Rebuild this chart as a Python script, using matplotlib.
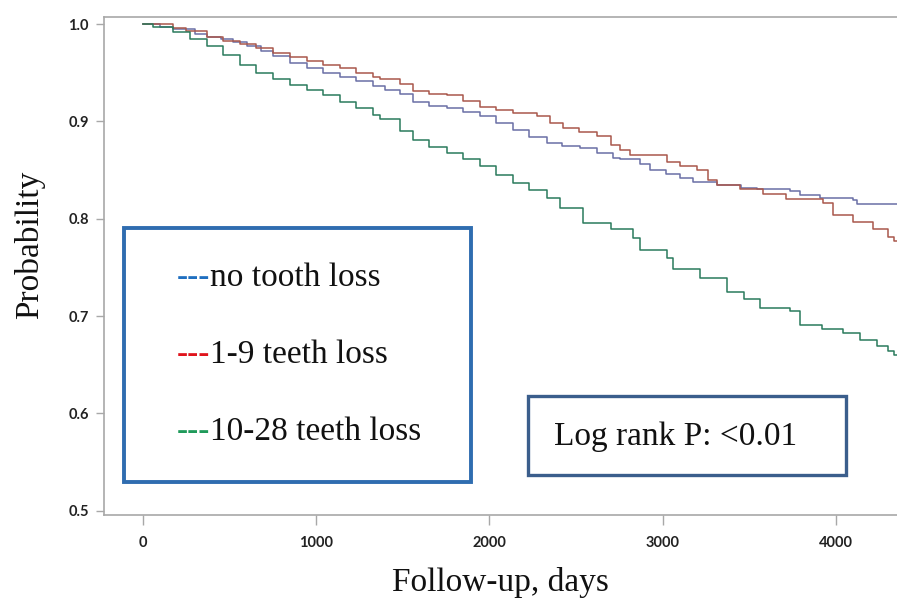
import matplotlib
matplotlib.use("Agg")
import matplotlib.pyplot as plt
from matplotlib.patches import Rectangle

# Kaplan-Meier curves (days, survival probability)
days_none = [0, 100, 175, 300, 368, 450, 521, 600, 680, 752, 850, 945, 1040, 1137,
             1230, 1330, 1400, 1484, 1561, 1650, 1753, 1850, 1946, 2040, 2138, 2230,
             2330, 2420, 2523, 2620, 2715, 2754, 2870, 2927, 3020, 3100, 3177, 3311,
             3450, 3542, 3736, 3793, 3908, 4100, 4120, 4360]
surv_none = [1.0, 0.997, 0.995, 0.990, 0.987, 0.985, 0.982, 0.977, 0.972, 0.967, 0.960,
             0.955, 0.950, 0.946, 0.941, 0.936, 0.932, 0.928, 0.920, 0.916, 0.914, 0.910,
             0.905, 0.898, 0.891, 0.884, 0.878, 0.875, 0.873, 0.867, 0.862, 0.861, 0.856,
             0.850, 0.846, 0.842, 0.838, 0.835, 0.832, 0.830, 0.828, 0.824, 0.821, 0.819,
             0.815, 0.815]

days_1_9 = [0, 175, 250, 368, 460, 560, 650, 752, 850, 945, 1040, 1137, 1230, 1330,
            1368, 1484, 1561, 1650, 1753, 1850, 1946, 2040, 2138, 2273, 2350, 2427,
            2520, 2619, 2700, 2754, 2812, 3024, 3100, 3196, 3263, 3311, 3446, 3581,
            3715, 3927, 3985, 4100, 4216, 4300, 4335, 4360]
surv_1_9 = [1.0, 0.996, 0.993, 0.987, 0.983, 0.979, 0.975, 0.970, 0.966, 0.962, 0.958,
            0.955, 0.950, 0.946, 0.943, 0.938, 0.931, 0.928, 0.927, 0.921, 0.915, 0.912,
            0.909, 0.905, 0.898, 0.893, 0.889, 0.885, 0.876, 0.871, 0.865, 0.858, 0.854,
            0.850, 0.840, 0.835, 0.830, 0.825, 0.820, 0.816, 0.804, 0.797, 0.789, 0.781,
            0.777, 0.777]

days_10_28 = [0, 60, 175, 270, 368, 460, 560, 650, 752, 850, 945, 1040, 1137, 1230,
              1330, 1368, 1484, 1561, 1650, 1753, 1850, 1946, 2040, 2138, 2230, 2330,
              2408, 2542, 2700, 2831, 2870, 3024, 3062, 3216, 3370, 3470, 3562, 3736,
              3793, 3920, 4043, 4140, 4236, 4300, 4335, 4360]
surv_10_28 = [1.0, 0.997, 0.992, 0.985, 0.977, 0.968, 0.958, 0.950, 0.943, 0.937, 0.932,
              0.927, 0.920, 0.914, 0.907, 0.902, 0.890, 0.881, 0.874, 0.8675, 0.861,
              0.854, 0.845, 0.837, 0.829, 0.821, 0.811, 0.796, 0.789, 0.780, 0.768,
              0.760, 0.748, 0.739, 0.725, 0.717, 0.708, 0.705, 0.691, 0.687, 0.683,
              0.675, 0.669, 0.664, 0.660, 0.660]

group_labels = ["no tooth loss", "1-9 teeth loss", "10-28 teeth loss"]
dash_colors = ["#1f6fc0", "#e0141c", "#1f9a5a"]
line_colors = ["#6a6fa6", "#a9574c", "#2a7a5c"]
x_ticks = [0, 1000, 2000, 3000, 4000]
y_ticks = [0.5, 0.6, 0.7, 0.8, 0.9, 1.0]
p_text = "Log rank P: <0.01"

W, H = 897, 604
fig = plt.figure(figsize=(W / 100, H / 100), dpi=100)


def fx(px):
    return px / W


def fy(py):
    return 1 - py / H


ax = fig.add_axes([fx(104), fy(515), fx(897) - fx(104), fy(17) - fy(515)])

for d, s, c in zip([days_none, days_1_9, days_10_28],
                   [surv_none, surv_1_9, surv_10_28], line_colors):
    ax.plot(d, s, drawstyle="steps-post", color=c, lw=1.1)

ax.set_xlim(-225, 4353)
ax.set_ylim(0.4956, 1.0072)
ax.set_xticks(x_ticks)
ax.set_yticks(y_ticks)
ax.set_yticklabels([f"{v:.1f}" for v in y_ticks])

for side in ["left", "bottom", "top"]:
    ax.spines[side].set_color("#a8a8a8")
    ax.spines[side].set_linewidth(1.2)
ax.spines["right"].set_visible(False)

tick_font = {"family": ["Lato", "DejaVu Sans"], "weight": "bold", "size": 10.5}
ax.tick_params(axis="x", length=7, width=1, color="#a8a8a8", pad=8)
ax.tick_params(axis="y", length=6, width=1, color="#a8a8a8", pad=5)
for lab in ax.get_xticklabels() + ax.get_yticklabels():
    lab.set_fontproperties(tick_font)
    lab.set_color("#222222")

serif = ["Liberation Serif", "DejaVu Serif"]
ax.set_xlabel("Follow-up, days", family=serif, size=24, color="#111111")
ax.xaxis.label.set_va("center")
ax.xaxis.set_label_coords((500 - 104) / 793, (515 - 583) / 498)
ax.set_ylabel("Probability", family=serif, size=24, color="#111111")
ax.yaxis.label.set_va("center")
ax.yaxis.set_label_coords((30 - 104) / 793, (515 - 245) / 498)

# legend box
fig.patches.append(Rectangle((fx(124), fy(482)), fx(471) - fx(124), fy(228) - fy(482),
                             transform=fig.transFigure, fill=False,
                             edgecolor="#2f6db0", lw=2.8))
for lab, c, py in zip(group_labels, dash_colors, [278, 355, 432]):
    dash = fig.text(fx(177), fy(py), "---", family=serif, size=24, color=c,
                    ha="left", va="center")
    fig.canvas.draw()
    ax.annotate(lab, xy=(1, 0), xycoords=dash, family=serif, size=24,
                color="#111111", ha="left", va="bottom")

# p-value box
fig.patches.append(Rectangle((fx(528), fy(475)), fx(846) - fx(528), fy(396) - fy(475),
                             transform=fig.transFigure, fill=False,
                             edgecolor="#3b5e8c", lw=2.4))
fig.text(fx(554), fy(437), p_text, family=serif, size=24, color="#111111",
         ha="left", va="center")

fig.savefig("out.png", dpi=100)
